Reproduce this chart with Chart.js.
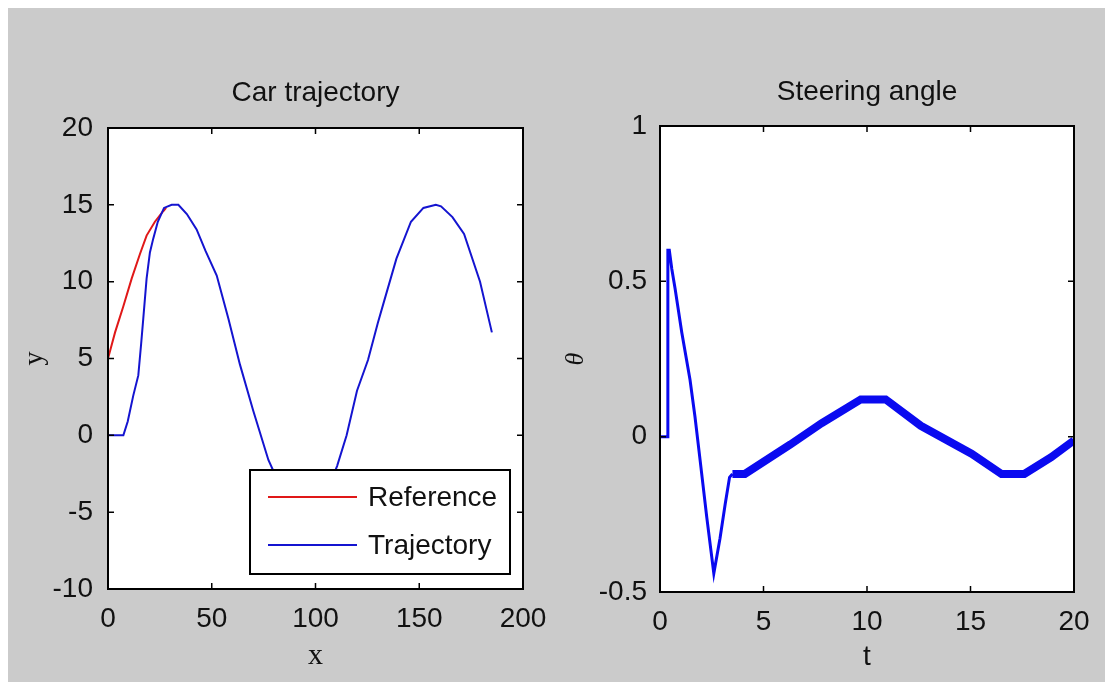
<!DOCTYPE html>
<html>
<head>
<meta charset="utf-8">
<title>Car trajectory / Steering angle</title>
<script src="https://cdn.jsdelivr.net/npm/chart.js@4.4.1/dist/chart.umd.min.js"></script>
<style>
    html, body { margin: 0; padding: 0; background: #fff; overflow: hidden; }
    #figure { position: absolute; left: 8px; top: 8px; width: 1097px; height: 674px; background: #cbcbcb; }
    #traj-chart { position: absolute; left: 0; top: 0; }
    #steer-chart { position: absolute; left: 544px; top: 0; }
</style>
</head>
<body>
<div id="figure">
    <canvas id="traj-chart" width="544" height="674"></canvas>
    <canvas id="steer-chart" width="553" height="674"></canvas>
</div>
<script>
// Car trajectory (left panel)
const refX = [0, 3.4, 7.4, 11.4, 15.4, 18.6, 22.6, 26.7, 28];
const refY = [5, 6.7, 8.4, 10.2, 11.8, 13.0, 13.9, 14.6, 14.8];

const trajX = [0, 7.4, 9.5, 12.2, 14.6, 16.0, 17.0, 18.6, 20.2, 21.8, 24.0, 27.0, 30.7, 33.9, 38, 42.7, 47, 52.4, 58, 63.6, 70, 77.3,
               85, 95, 105, 110.4, 115, 120, 125.3, 130, 133, 139, 146, 152, 158, 160.5, 166, 171.6, 179.3, 185];
const trajY = [0, 0, 0.9, 2.6, 3.9, 6.0, 7.6, 10.2, 11.9, 12.8, 13.9, 14.8, 15, 15, 14.4, 13.4, 12.0, 10.4, 7.6, 4.6, 1.6, -1.6,
               -3.9, -5, -3.8, -2.0, 0, 2.9, 4.9, 7.3, 8.7, 11.5, 13.9, 14.8, 15, 14.9, 14.2, 13.1, 10, 6.7];

const trajXTicks = [0, 50, 100, 150, 200];
const trajYTicks = [-10, -5, 0, 5, 10, 15, 20];

// Steering angle (right panel): thin start, then the chattering (thick) part
const steerT1 = [0, 0.35, 0.38, 0.45, 0.57, 0.73, 1.05, 1.45, 1.69, 1.94, 2.26, 2.6, 2.9, 3.15, 3.36, 3.5];
const steerTheta1 = [0, 0, 0.6, 0.6, 0.54, 0.476, 0.336, 0.183, 0.064, -0.077, -0.26, -0.44, -0.327, -0.217, -0.131, -0.12];

const steerT2 = [3.5, 4.1, 6.3, 7.8, 9.7, 10.9, 12.6, 15.05, 16.5, 17.6, 18.9, 20];
const steerTheta2 = [-0.12, -0.12, -0.025, 0.043, 0.12, 0.12, 0.035, -0.055, -0.12, -0.12, -0.066, -0.012];

const steerTTicks = [0, 5, 10, 15, 20];
const steerThetaTicks = [-0.5, 0, 0.5, 1];

const SANS = "'Liberation Sans', Arial, sans-serif";
const SERIF = "'Liberation Serif', 'Times New Roman', serif";
const tickFont = { family: SANS, size: 28 };
const inkColor = '#111';

function toPoints(xs, ys) {
    return xs.map((x, i) => ({ x: x, y: ys[i] }));
}

function fixedTicks(values) {
    return function(scale) {
        scale.ticks = values.map(v => ({ value: v }));
    };
}

// white plot box, inward ticks on all sides, black frame, centred title, boxed legend
const matlabAxes = {
    id: 'matlabAxes',
    beforeDraw(chart) {
        const { ctx, chartArea: a } = chart;
        ctx.save();
        ctx.fillStyle = '#fff';
        ctx.fillRect(a.left, a.top, a.right - a.left, a.bottom - a.top);
        ctx.restore();
    },
    afterDatasetsDraw(chart) {
        const { ctx, chartArea: a, scales } = chart;
        const len = 6;
        ctx.save();
        ctx.strokeStyle = '#000';
        ctx.lineWidth = 1.5;
        ctx.beginPath();
        scales.x.ticks.forEach(t => {
            const px = scales.x.getPixelForValue(t.value);
            ctx.moveTo(px, a.bottom); ctx.lineTo(px, a.bottom - len);
            ctx.moveTo(px, a.top); ctx.lineTo(px, a.top + len);
        });
        scales.y.ticks.forEach(t => {
            const py = scales.y.getPixelForValue(t.value);
            ctx.moveTo(a.left, py); ctx.lineTo(a.left + len, py);
            ctx.moveTo(a.right, py); ctx.lineTo(a.right - len, py);
        });
        ctx.stroke();
        ctx.lineWidth = 2;
        ctx.strokeRect(a.left, a.top, a.right - a.left, a.bottom - a.top);
        ctx.restore();
    },
    afterDraw(chart, args, opts) {
        const { ctx, chartArea: a } = chart;
        ctx.save();
        ctx.fillStyle = inkColor;
        ctx.font = '28px ' + SANS;
        ctx.textBaseline = 'alphabetic';
        ctx.textAlign = 'center';
        ctx.fillText(opts.title, (a.left + a.right) / 2, opts.titleBaseline);

        if (opts.legend) {
            const w = 260, h = 104;
            const left = a.right - 13 - w;
            const top = a.bottom - 15 - h;
            ctx.fillStyle = '#fff';
            ctx.fillRect(left, top, w, h);
            ctx.strokeStyle = '#000';
            ctx.lineWidth = 2;
            ctx.strokeRect(left, top, w, h);
            ctx.textAlign = 'left';
            ctx.textBaseline = 'middle';
            chart.data.datasets.forEach((ds, i) => {
                const y = top + 27 + i * 48;
                ctx.strokeStyle = ds.borderColor;
                ctx.lineWidth = 2;
                ctx.beginPath();
                ctx.moveTo(left + 18, y);
                ctx.lineTo(left + 107, y);
                ctx.stroke();
                ctx.fillStyle = inkColor;
                ctx.fillText(ds.label, left + 118, y + 1);
            });
        }
        ctx.restore();
    }
};

function axisOptions(min, max, ticks, fit, title, titleFont, titlePadding, tickPadding) {
    return {
        type: 'linear',
        min: min,
        max: max,
        afterBuildTicks: fixedTicks(ticks),
        afterFit: fit,
        grid: { display: false, drawTicks: false },
        border: { display: false },
        ticks: {
            font: tickFont,
            color: inkColor,
            padding: tickPadding,
            maxRotation: 0,
            autoSkip: false,
            callback: v => String(v)
        },
        title: { display: true, text: title, font: titleFont, color: inkColor, padding: titlePadding }
    };
}

// fixed box sizes so the plot areas land where the figure has them
function xFit(height) {
    return function(s) {
        s.height = height;
        s.paddingLeft = 0;
        s.paddingRight = 0;
    };
}

function yFit(width) {
    return function(s) {
        s.width = width;
        s.paddingTop = 0;
        s.paddingBottom = 0;
    };
}

new Chart(document.getElementById('traj-chart'), {
    type: 'line',
    data: {
        datasets: [
            { label: 'Reference', data: toPoints(refX, refY), borderColor: '#e01818', borderWidth: 2, order: 1 },
            { label: 'Trajectory', data: toPoints(trajX, trajY), borderColor: '#1414d0', borderWidth: 2, order: 0 }
        ]
    },
    options: {
        responsive: false,
        animation: false,
        layout: { padding: { top: 120, right: 29, bottom: 0, left: 0 } },
        elements: { point: { radius: 0 }, line: { tension: 0 } },
        plugins: {
            legend: { display: false },
            tooltip: { enabled: false },
            matlabAxes: { title: 'Car trajectory', titleBaseline: 93, legend: true }
        },
        scales: {
            x: axisOptions(0, 200, trajXTicks, xFit(93), 'x',
                { family: SERIF, size: 30 }, { top: 0, bottom: 8 }, 13),
            y: axisOptions(-10, 20, trajYTicks, yFit(100), 'y',
                { family: SERIF, size: 28 }, { top: 10, bottom: 0 }, 15)
        }
    },
    plugins: [matlabAxes]
});

new Chart(document.getElementById('steer-chart'), {
    type: 'line',
    data: {
        datasets: [
            { label: 'theta', data: toPoints(steerT1, steerTheta1), borderColor: '#0a0af0', borderWidth: 3 },
            { label: 'theta chatter', data: toPoints(steerT2, steerTheta2), borderColor: '#0a0af0', borderWidth: 8 }
        ]
    },
    options: {
        responsive: false,
        animation: false,
        layout: { padding: { top: 118, right: 31, bottom: 0, left: 0 } },
        elements: { point: { radius: 0 }, line: { tension: 0 } },
        plugins: {
            legend: { display: false },
            tooltip: { enabled: false },
            matlabAxes: { title: 'Steering angle', titleBaseline: 92, legend: false }
        },
        scales: {
            x: axisOptions(0, 20, steerTTicks, xFit(90), 't',
                { family: SANS, size: 28 }, { top: 0, bottom: 8 }, 13),
            y: axisOptions(-0.5, 1, steerThetaTicks, yFit(108), 'θ',
                { family: SERIF, size: 26, style: 'italic' }, { top: 9, bottom: 0 }, 13)
        }
    },
    plugins: [matlabAxes]
});
</script>
</body>
</html>
